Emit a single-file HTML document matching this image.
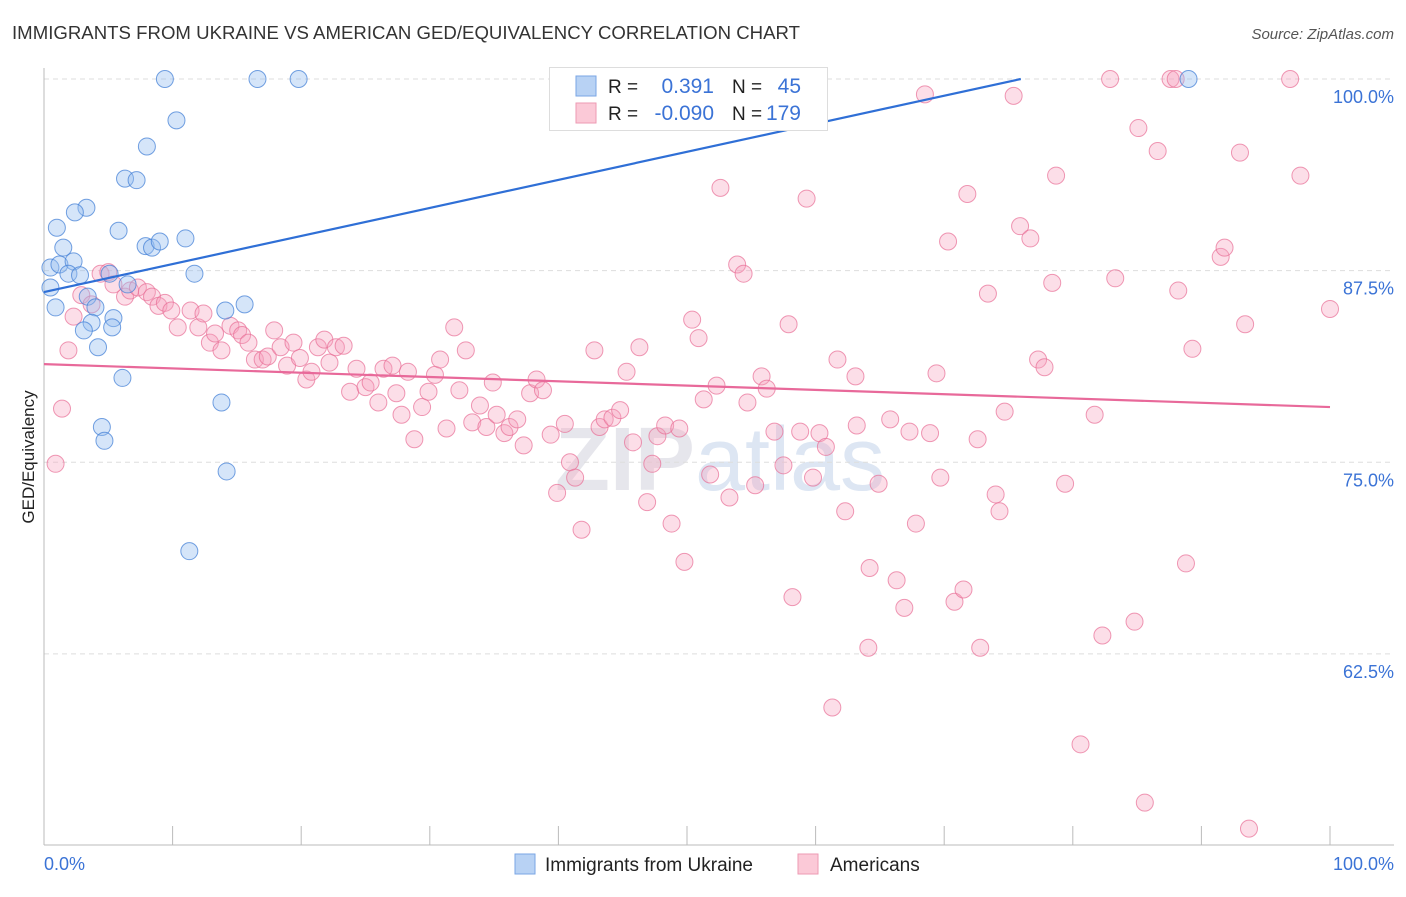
<!DOCTYPE html>
<html><head><meta charset="utf-8">
<style>
body{margin:0;background:#fff;font-family:"Liberation Sans",sans-serif;}
svg text{font-family:"Liberation Sans",sans-serif;}
</style></head>
<body>
<svg id="chart" width="1406" height="892" viewBox="0 0 1406 892" xmlns="http://www.w3.org/2000/svg">
<text x="12" y="39" font-size="18.6" fill="#333" textLength="788">IMMIGRANTS FROM UKRAINE VS AMERICAN GED/EQUIVALENCY CORRELATION CHART</text>
<text x="1394" y="39" font-size="15" font-style="italic" fill="#555" text-anchor="end">Source: ZipAtlas.com</text>
<text x="720" y="490" font-size="90" fill="#e6e6ec" text-anchor="middle" font-weight="bold">ZIP<tspan fill="#dde6f3" font-weight="normal">atlas</tspan></text>
<g id="grid"></g>
<g id="axes"></g>
<g id="pink"></g>
<g id="blue"></g>
<g id="lines"></g>
<text transform="translate(34,457) rotate(-90)" font-size="17" fill="#222" text-anchor="middle">GED/Equivalency</text>
<text x="44" y="870" font-size="18" fill="#3b73d6">0.0%</text>
<text x="1394" y="870" font-size="18" fill="#3b73d6" text-anchor="end">100.0%</text>
<g>
<rect x="549.5" y="67.5" width="278" height="63" fill="#fff" stroke="#ddd"/>
<rect x="576" y="76" width="20" height="20" fill="#b8d2f4" stroke="#7aa6e4"/>
<rect x="576" y="103" width="20" height="20" fill="#fbc9d7" stroke="#ee9ab3"/>
<text x="608" y="93" font-size="19" fill="#222">R =</text>
<text x="714" y="93" font-size="21" fill="#3b73d6" text-anchor="end">0.391</text>
<text x="732" y="93" font-size="19" fill="#222">N =</text>
<text x="801" y="93" font-size="21" fill="#3b73d6" text-anchor="end">45</text>
<text x="608" y="120" font-size="19" fill="#222">R =</text>
<text x="714" y="120" font-size="21" fill="#3b73d6" text-anchor="end">-0.090</text>
<text x="732" y="120" font-size="19" fill="#222">N =</text>
<text x="801" y="120" font-size="21" fill="#3b73d6" text-anchor="end">179</text>
</g>
<g>
<rect x="515" y="854" width="20" height="20" fill="#b8d2f4" stroke="#7aa6e4"/>
<text x="545" y="871" font-size="19" fill="#222">Immigrants from Ukraine</text>
<rect x="798" y="854" width="20" height="20" fill="#fbc9d7" stroke="#ee9ab3"/>
<text x="830" y="871" font-size="19" fill="#222">Americans</text>
</g>
</svg>
<script>
const yTicks=[100,87.5,75,62.5];
const yTickLabels=["100.0%","87.5%","75.0%","62.5%"];
const xTicks=[0,10,20,30,40,50,60,70,80,90,100];
const blueX=[9.4,16.6,19.8,50,89,10.3,8,6.3,7.2,3.3,2.4,1,5.8,1.5,7.9,8.4,9,11,0.5,1.2,2.3,1.9,2.8,5.1,11.7,0.5,3.4,6.5,0.9,4,3.7,5.4,3.1,5.3,4.2,14.1,15.6,6.1,13.8,4.5,4.7,14.2,11.3];
const blueY=[100,100,100,100,100,97.3,95.6,93.5,93.4,91.6,91.3,90.3,90.1,89,89.1,89,89.4,89.6,87.7,87.9,88.1,87.3,87.2,87.3,87.3,86.4,85.8,86.6,85.1,85.1,84.1,84.4,83.6,83.8,82.5,84.9,85.3,80.5,78.9,77.3,76.4,74.4,69.2];
const pinkX=[0.9,1.4,1.9,2.3,2.9,3.7,4.4,5,5.4,6.3,6.7,7.3,8,8.4,8.9,9.4,9.9,10.4,11.4,12,12.4,12.9,13.3,13.8,14.5,15.1,15.4,15.9,16.4,17,17.4,17.9,18.4,18.9,19.4,19.9,20.4,20.8,21.3,21.8,22.2,22.7,23.3,23.8,24.3,25,25.4,26,26.4,27.1,27.4,27.8,28.3,28.8,29.4,29.9,30.4,30.8,31.3,31.9,32.3,32.8,33.3,33.9,34.4,34.9,35.2,35.8,36.2,36.8,37.3,37.8,38.3,38.8,39.4,39.9,40.5,40.9,41.3,41.8,42.8,43.2,43.6,44.2,44.8,45.3,45.8,46.3,46.9,47.3,47.7,48.3,48.8,49.4,49.8,50.4,50.9,51.3,51.8,52.3,52.6,53.3,53.9,54.4,54.7,55.3,55.8,56.2,56.8,57.5,57.9,58.2,58.8,59.3,59.8,60.3,60.8,61.3,61.7,62.3,63.1,63.2,64.1,64.2,64.9,65.8,66.3,66.9,67.3,67.8,68.5,68.9,69.4,69.7,70.3,70.8,71.5,71.8,72.6,72.8,73.4,74,74.3,74.7,75.4,75.9,76.7,77.3,77.8,78.4,78.7,79.4,80.6,81.7,82.3,82.9,83.3,84.8,85.1,85.6,86.6,87.6,88,88.2,88.8,89.3,91.5,91.8,93,93.4,93.7,96.9,97.7,100];
const pinkY=[74.9,78.5,82.3,84.5,85.9,85.3,87.3,87.4,86.6,85.8,86.2,86.4,86.1,85.8,85.2,85.4,84.9,83.8,84.9,83.8,84.7,82.8,83.4,82.3,83.9,83.6,83.3,82.8,81.7,81.7,81.9,83.6,82.5,81.3,82.8,81.8,80.4,80.9,82.5,83,81.5,82.5,82.6,79.6,81.1,79.9,80.2,78.9,81.1,81.3,79.5,78.1,80.9,76.5,78.6,79.6,80.7,81.7,77.2,83.8,79.7,82.3,77.6,78.7,77.3,80.2,78.1,76.9,77.3,77.8,76.1,79.5,80.4,79.7,76.8,73,77.5,75,74,70.6,82.3,77.3,77.8,77.9,78.4,80.9,76.3,82.5,72.4,74.9,76.7,77.4,71,77.2,68.5,84.3,83.1,79.1,74.2,80,92.9,72.7,87.9,87.3,78.9,73.5,80.6,79.8,77,74.8,84,66.2,77,92.2,74,76.9,76,59,81.7,71.8,80.6,77.4,62.9,68.1,73.6,77.8,67.3,65.5,77,71,99,76.9,80.8,74,89.4,65.9,66.7,92.5,76.5,62.9,86,72.9,71.8,78.3,98.9,90.4,89.6,81.7,81.2,86.7,93.7,73.6,56.6,78.1,63.7,100,87,64.6,96.8,52.8,95.3,100,100,86.2,68.4,82.4,88.4,89,95.2,84,51.1,100,93.7,85];
const blueTrend=[86.1,104.4];
const pinkTrend=[81.4,78.6];

const NS="http://www.w3.org/2000/svg";
const X=v=>44+v*12.86;
const Y=v=>79+(100-v)*15.33;
function mk(tag,attrs,parent){const e=document.createElementNS(NS,tag);for(const k in attrs)e.setAttribute(k,attrs[k]);document.getElementById(parent).appendChild(e);return e;}
yTicks.forEach((t,i)=>{
  const l=mk('line',{x1:44,x2:1394,y1:Y(t),y2:Y(t),stroke:'#ddd','stroke-dasharray':'5,4'},'grid');
  
  
  const tx=mk('text',{x:1394,y:Y(t)+24,'font-size':18,fill:'#3b73d6','text-anchor':'end'},'grid');
  tx.textContent=yTickLabels[i];
  
  
});
const ax=mk('line',{x1:44,x2:44,y1:68,y2:845,stroke:'#bbb'},'axes');


const bx=mk('line',{x1:44,x2:1394,y1:845,y2:845,stroke:'#bbb'},'axes');


xTicks.forEach(t=>{
  const l=mk('line',{x1:X(t),x2:X(t),y1:826,y2:845,stroke:'#bbb'},'axes');
  
  
});
pinkX.forEach((v,i)=>{
  const c=mk('circle',{cx:X(v),cy:Y(pinkY[i]),r:8.5,fill:'rgba(246,160,188,0.35)',stroke:'rgba(232,110,150,0.7)','stroke-width':1},'pink');
  
  
});
blueX.forEach((v,i)=>{
  const c=mk('circle',{cx:X(v),cy:Y(blueY[i]),r:8.5,fill:'rgba(150,190,240,0.4)',stroke:'rgba(70,130,215,0.75)','stroke-width':1},'blue');
  
  
});
// blue trend clipped at 100%
const bSlope=(blueTrend[1]-blueTrend[0])/100;
const bEndX=Math.min(100,(100-blueTrend[0])/bSlope);
const bl=mk('line',{x1:X(0),y1:Y(blueTrend[0]),x2:X(bEndX),y2:Y(blueTrend[0]+bSlope*bEndX),stroke:'#2f6fd6','stroke-width':2.2},'lines');


const pl=mk('line',{x1:X(0),y1:Y(pinkTrend[0]),x2:X(100),y2:Y(pinkTrend[1]),stroke:'#e8699a','stroke-width':2.2},'lines');


</script>
</body></html>
